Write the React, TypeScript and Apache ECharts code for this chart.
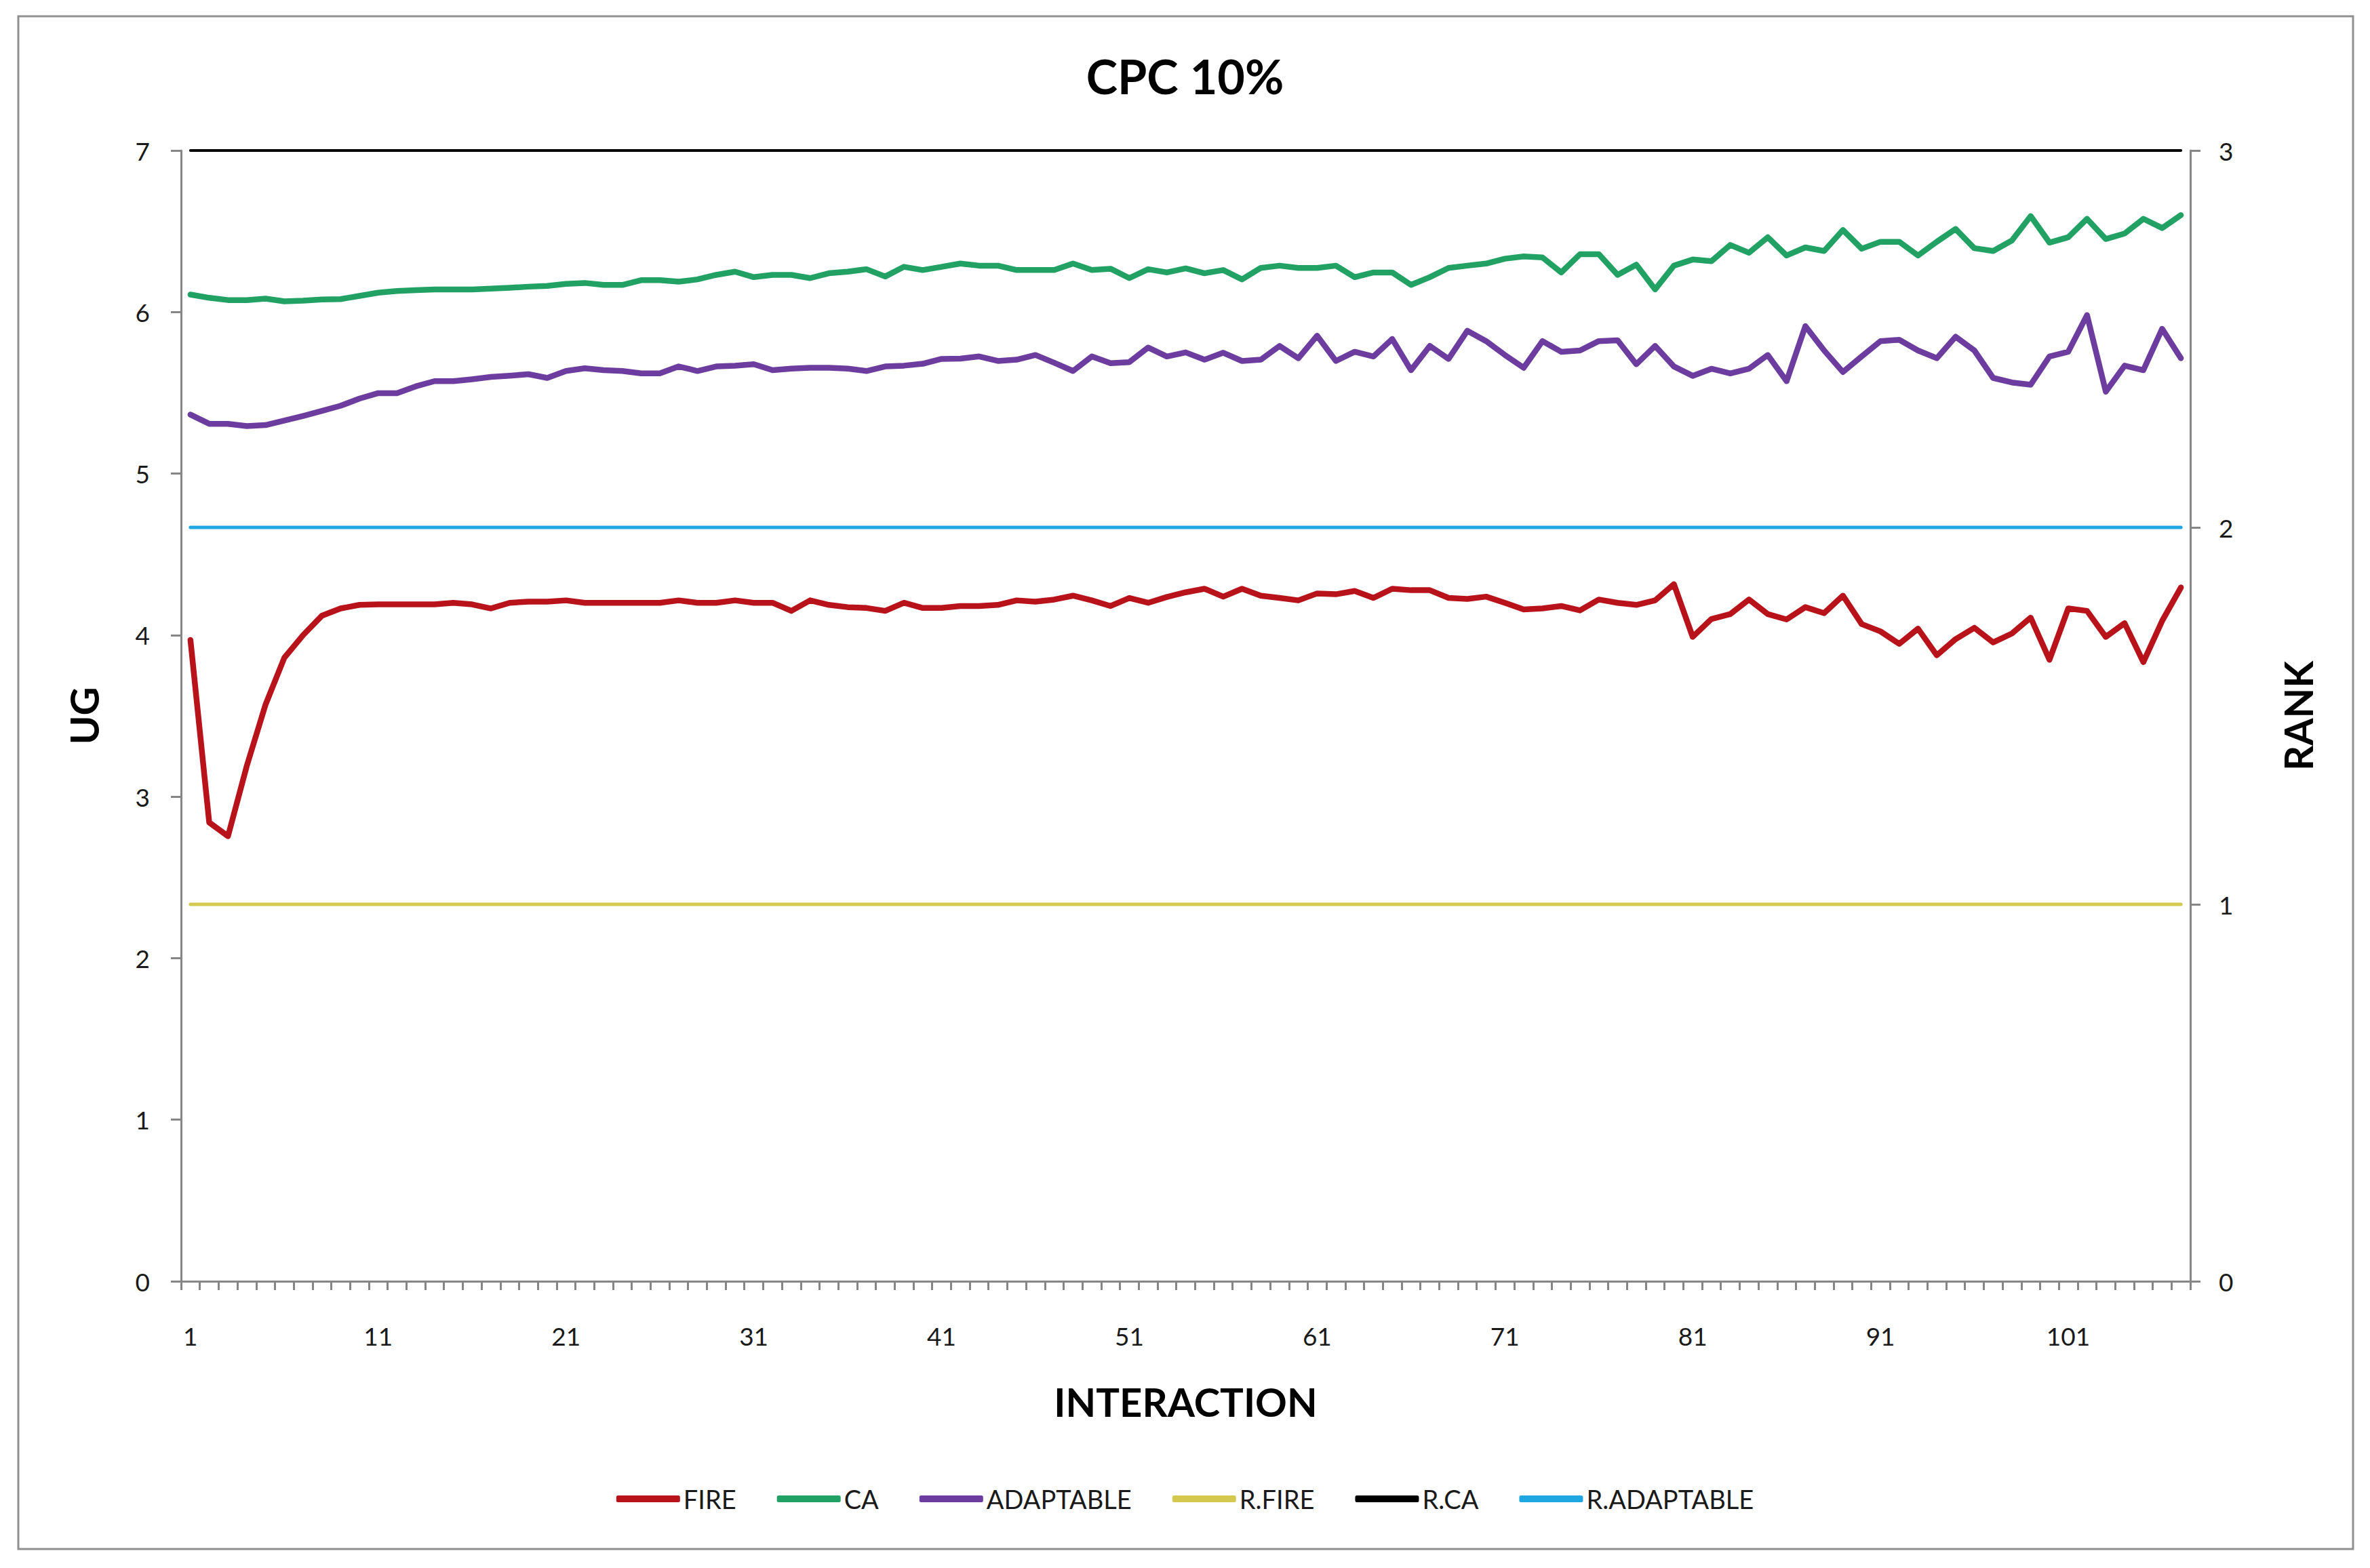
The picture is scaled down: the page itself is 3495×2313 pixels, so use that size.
import React, { useEffect, useRef } from "react";
import * as echarts from "echarts";

const categories: string[] = Array.from({ length: 107 }, (_, i) => String(i + 1));

const fire: number[] = [
  3.97, 2.84, 2.755, 3.19, 3.57, 3.86, 4.0, 4.12, 4.165, 4.187,
  4.19, 4.19, 4.19, 4.19, 4.2, 4.19, 4.165, 4.2, 4.207, 4.207,
  4.215, 4.2, 4.2, 4.2, 4.2, 4.2, 4.215, 4.2, 4.2, 4.215,
  4.2, 4.2, 4.15, 4.215, 4.187, 4.173, 4.168, 4.15, 4.2, 4.168,
  4.168, 4.18, 4.18, 4.187, 4.215, 4.207, 4.22, 4.244, 4.215, 4.18,
  4.23, 4.2, 4.236, 4.265, 4.287, 4.238, 4.287, 4.244, 4.23, 4.215,
  4.258, 4.253, 4.273, 4.23, 4.287, 4.278, 4.278, 4.23, 4.224, 4.238,
  4.2, 4.159, 4.165, 4.18, 4.153, 4.22, 4.2, 4.187, 4.215, 4.315,
  3.989, 4.1, 4.13, 4.22, 4.13, 4.097, 4.173, 4.136, 4.244, 4.068,
  4.023, 3.946, 4.04, 3.875, 3.975, 4.045, 3.955, 4.01, 4.108, 3.847,
  4.165, 4.15, 3.989, 4.074, 3.833, 4.088, 4.295,
];

const ca: number[] = [
  6.108, 6.088, 6.074, 6.074, 6.083, 6.066, 6.07, 6.078, 6.08, 6.1,
  6.12, 6.13, 6.135, 6.14, 6.14, 6.14, 6.145, 6.15, 6.157, 6.162,
  6.174, 6.18, 6.168, 6.168, 6.197, 6.197, 6.188, 6.202, 6.23, 6.25,
  6.216, 6.23, 6.23, 6.21, 6.24, 6.25, 6.265, 6.22, 6.28, 6.26,
  6.28, 6.3, 6.287, 6.287, 6.26, 6.26, 6.26, 6.3, 6.26, 6.268,
  6.21, 6.265, 6.245, 6.27, 6.24, 6.26, 6.202, 6.273, 6.287, 6.273,
  6.273, 6.287, 6.216, 6.245, 6.245, 6.168, 6.216, 6.273, 6.287, 6.3,
  6.33, 6.344, 6.338, 6.245, 6.358, 6.358, 6.23, 6.293, 6.14, 6.287,
  6.325, 6.315, 6.415, 6.367, 6.463, 6.35, 6.4, 6.378, 6.508, 6.392,
  6.435, 6.435, 6.35, 6.435, 6.514, 6.395, 6.378, 6.443, 6.594, 6.43,
  6.463, 6.577, 6.452, 6.486, 6.577, 6.52, 6.6,
];

const adaptable: number[] = [
  5.365, 5.308, 5.308, 5.294, 5.3, 5.328, 5.357, 5.388, 5.42, 5.464,
  5.498, 5.498, 5.54, 5.572, 5.572, 5.584, 5.598, 5.606, 5.615, 5.592,
  5.635, 5.652, 5.64, 5.635, 5.62, 5.62, 5.663, 5.635, 5.663, 5.668,
  5.677, 5.64, 5.65, 5.655, 5.655, 5.65, 5.635, 5.663, 5.668, 5.68,
  5.71, 5.712, 5.725, 5.697, 5.705, 5.734, 5.686, 5.635, 5.725, 5.683,
  5.69, 5.78, 5.725, 5.75, 5.705, 5.748, 5.697, 5.705, 5.79, 5.714,
  5.853, 5.697, 5.754, 5.725, 5.833, 5.64, 5.79, 5.71, 5.884, 5.82,
  5.734, 5.655, 5.82, 5.754, 5.762, 5.82, 5.825, 5.677, 5.79, 5.663,
  5.605, 5.649, 5.62, 5.649, 5.734, 5.572, 5.913, 5.762, 5.629, 5.725,
  5.82, 5.828, 5.762, 5.714, 5.847, 5.762, 5.592, 5.564, 5.55, 5.725,
  5.754, 5.981, 5.507, 5.668, 5.64, 5.896, 5.714,
];

const rFire: number[] = [
  1, 1, 1, 1, 1, 1, 1, 1, 1, 1, 1, 1, 1, 1, 1, 1, 1, 1, 1, 1,
  1, 1, 1, 1, 1, 1, 1, 1, 1, 1, 1, 1, 1, 1, 1, 1, 1, 1, 1, 1,
  1, 1, 1, 1, 1, 1, 1, 1, 1, 1, 1, 1, 1, 1, 1, 1, 1, 1, 1, 1,
  1, 1, 1, 1, 1, 1, 1, 1, 1, 1, 1, 1, 1, 1, 1, 1, 1, 1, 1, 1,
  1, 1, 1, 1, 1, 1, 1, 1, 1, 1, 1, 1, 1, 1, 1, 1, 1, 1, 1, 1,
  1, 1, 1, 1, 1, 1, 1,
];

const rCa: number[] = [
  3, 3, 3, 3, 3, 3, 3, 3, 3, 3, 3, 3, 3, 3, 3, 3, 3, 3, 3, 3,
  3, 3, 3, 3, 3, 3, 3, 3, 3, 3, 3, 3, 3, 3, 3, 3, 3, 3, 3, 3,
  3, 3, 3, 3, 3, 3, 3, 3, 3, 3, 3, 3, 3, 3, 3, 3, 3, 3, 3, 3,
  3, 3, 3, 3, 3, 3, 3, 3, 3, 3, 3, 3, 3, 3, 3, 3, 3, 3, 3, 3,
  3, 3, 3, 3, 3, 3, 3, 3, 3, 3, 3, 3, 3, 3, 3, 3, 3, 3, 3, 3,
  3, 3, 3, 3, 3, 3, 3,
];

const rAdaptable: number[] = [
  2, 2, 2, 2, 2, 2, 2, 2, 2, 2, 2, 2, 2, 2, 2, 2, 2, 2, 2, 2,
  2, 2, 2, 2, 2, 2, 2, 2, 2, 2, 2, 2, 2, 2, 2, 2, 2, 2, 2, 2,
  2, 2, 2, 2, 2, 2, 2, 2, 2, 2, 2, 2, 2, 2, 2, 2, 2, 2, 2, 2,
  2, 2, 2, 2, 2, 2, 2, 2, 2, 2, 2, 2, 2, 2, 2, 2, 2, 2, 2, 2,
  2, 2, 2, 2, 2, 2, 2, 2, 2, 2, 2, 2, 2, 2, 2, 2, 2, 2, 2, 2,
  2, 2, 2, 2, 2, 2, 2,
];

const FONT = "Lato, 'Open Sans', sans-serif";

export default function App() {
  const ref = useRef<HTMLDivElement>(null);

  useEffect(() => {
    document.body.style.margin = "0";
    if (!ref.current) return;
    const chart = echarts.init(ref.current, null, { renderer: "svg" });

    const axisLineStyle = { color: "#868686", width: 3 };
    const mk = (name: string, data: number[], color: string, width: number, yAxisIndex: number, z: number) => ({
      name,
      type: "line",
      data,
      yAxisIndex,
      showSymbol: false,
      symbol: "none",
      z,
      lineStyle: { color, width, cap: "round", join: "round" },
      itemStyle: { color },
    });

    chart.setOption({
      animation: false,
      backgroundColor: "#ffffff",
      textStyle: { fontFamily: FONT },
      title: {
        text: "CPC 10%",
        left: "center",
        top: 72,
        textStyle: { fontFamily: FONT, fontWeight: "bold", fontSize: 70, color: "#000" },
      },
      graphic: [
        {
          type: "rect",
          shape: { x: 27, y: 24, width: 3443, height: 2261 },
          style: { fill: "none", stroke: "#8f8f8f", lineWidth: 3 },
          silent: true,
        },
      ],
      legend: {
        bottom: 2313 - 2235,
        left: "center",
        itemWidth: 94,
        itemHeight: 10,
        itemGap: 60,
        icon: "roundRect",
        textStyle: { fontFamily: FONT, fontSize: 38, color: "#1a1a1a" },
        data: ["FIRE", "CA", "ADAPTABLE", "R.FIRE", "R.CA", "R.ADAPTABLE"],
      },
      grid: { left: 267, right: 265, top: 222, bottom: 423, containLabel: false },
      xAxis: {
        type: "category",
        data: categories,
        boundaryGap: true,
        name: "INTERACTION",
        nameLocation: "middle",
        nameGap: 148,
        nameTextStyle: { fontFamily: FONT, fontWeight: "bold", fontSize: 58, color: "#000", verticalAlign: "top" },
        axisLine: { show: true, lineStyle: axisLineStyle },
        axisTick: { show: true, interval: 0, alignWithLabel: false, length: 13, inside: false, lineStyle: { color: "#868686", width: 3 } },
        axisLabel: { interval: 9, margin: 62, fontFamily: FONT, fontSize: 37, color: "#1a1a1a" },
        splitLine: { show: false },
      },
      yAxis: [
        {
          type: "value",
          min: 0,
          max: 7,
          interval: 1,
          position: "left",
          name: "UG",
          nameLocation: "middle",
          nameGap: 115,
          nameTextStyle: { fontFamily: FONT, fontWeight: "bold", fontSize: 58, color: "#000" },
          axisLine: { show: true, lineStyle: axisLineStyle },
          axisTick: { show: true, length: 15, lineStyle: { color: "#868686", width: 3 } },
          axisLabel: { margin: 46, fontFamily: FONT, fontSize: 37, color: "#1a1a1a" },
          splitLine: { show: false },
        },
        {
          type: "value",
          min: 0,
          max: 3,
          interval: 1,
          position: "right",
          name: "RANK",
          nameLocation: "middle",
          nameGap: 129,
          nameTextStyle: { fontFamily: FONT, fontWeight: "bold", fontSize: 58, color: "#000" },
          axisLine: { show: true, lineStyle: axisLineStyle },
          axisTick: { show: true, length: 15, lineStyle: { color: "#868686", width: 3 } },
          axisLabel: { margin: 42, fontFamily: FONT, fontSize: 37, color: "#1a1a1a" },
          splitLine: { show: false },
        },
      ],
      series: [
        mk("FIRE", fire, "#B8121B", 8.5, 0, 6),
        mk("CA", ca, "#21A163", 8.5, 0, 6),
        mk("ADAPTABLE", adaptable, "#6C3C9E", 8.5, 0, 6),
        mk("R.FIRE", rFire, "#D4C94E", 5, 1, 4),
        mk("R.CA", rCa, "#000000", 4, 1, 4),
        mk("R.ADAPTABLE", rAdaptable, "#1EA7E0", 5, 1, 4),
      ],
    });

    return () => chart.dispose();
  }, []);

  return <div ref={ref} style={{ width: 3495, height: 2313 }} />;
}
